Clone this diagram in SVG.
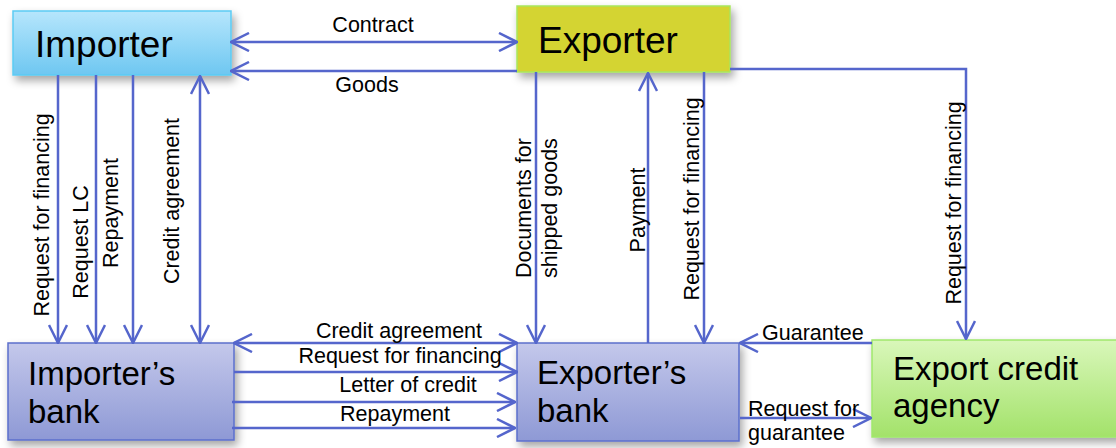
<svg xmlns="http://www.w3.org/2000/svg" width="1116" height="448" viewBox="0 0 1116 448">
<style>
.big{font-family:"Liberation Sans",Arial,sans-serif;font-size:37px;fill:#000}
.mid{font-family:"Liberation Sans",Arial,sans-serif;font-size:33px;fill:#000}
.lbl{font-family:"Liberation Sans",Arial,sans-serif;font-size:21.5px;fill:#000}
.c{fill:none;stroke:#5566cc;stroke-width:2.5}
.a{marker-end:url(#ah)}
.b{marker-start:url(#ah);marker-end:url(#ah)}
</style>
<defs>
<marker id="ah" viewBox="0 0 20 20" refX="19" refY="10" markerWidth="20" markerHeight="20" markerUnits="userSpaceOnUse" orient="auto-start-reverse">
<path d="M1,1 L19,10 L1,19" fill="none" stroke="#5566cc" stroke-width="2.5"/>
</marker>
<linearGradient id="gImp" x1="0" y1="0" x2="0" y2="1"><stop offset="0" stop-color="#b6e6fc"/><stop offset="1" stop-color="#6ec7f1"/></linearGradient>
<linearGradient id="gBank" x1="0" y1="0" x2="0" y2="1"><stop offset="0" stop-color="#c4c8eb"/><stop offset="1" stop-color="#8e99d5"/></linearGradient>
<linearGradient id="gEca" x1="0" y1="0" x2="0" y2="1"><stop offset="0" stop-color="#d9f7ba"/><stop offset="1" stop-color="#a3e26a"/></linearGradient>
<filter id="sh" x="-10%" y="-10%" width="130%" height="140%"><feDropShadow dx="3" dy="5" stdDeviation="4" flood-color="#000" flood-opacity="0.35"/></filter>
</defs>
<rect width="1116" height="448" fill="#fff"/>
<g id="importer">
<rect x="13" y="11" width="218" height="64" fill="url(#gImp)" stroke="#5ccbf3" stroke-width="1.5" filter="url(#sh)"/>
<text class="big" x="35" y="57">Importer</text>
</g>
<g id="exporter">
<rect x="517" y="6" width="213" height="66" fill="#d4d432" stroke="#a8e65c" stroke-width="1.5" filter="url(#sh)"/>
<text class="big" x="538" y="53">Exporter</text>
</g>
<g id="importers-bank">
<rect x="8" y="343" width="226" height="97" fill="url(#gBank)" stroke="#5b6fcc" stroke-width="1.5" filter="url(#sh)"/>
<text class="mid" x="28" y="385">Importer’s</text>
<text class="mid" x="28" y="423">bank</text>
</g>
<g id="exporters-bank">
<rect x="517" y="343" width="222" height="98" fill="url(#gBank)" stroke="#5b6fcc" stroke-width="1.5" filter="url(#sh)"/>
<text class="mid" x="537" y="384">Exporter’s</text>
<text class="mid" x="537" y="422">bank</text>
</g>
<g id="export-credit-agency">
<rect x="872" y="340" width="250" height="97" fill="url(#gEca)" stroke="#a0e86c" stroke-width="1.5" filter="url(#sh)"/>
<text class="mid" x="893" y="380">Export credit</text>
<text class="mid" x="893" y="417">agency</text>
</g>
<g id="connectors">
<line class="c b" x1="231" y1="42" x2="517" y2="42"/>
<line class="c a" x1="517" y1="71" x2="231" y2="71"/>
<line class="c a" x1="58" y1="75" x2="58" y2="343"/>
<line class="c a" x1="96" y1="75" x2="96" y2="343"/>
<line class="c a" x1="133" y1="75" x2="133" y2="343"/>
<line class="c b" x1="200" y1="76" x2="200" y2="343"/>
<line class="c a" x1="536" y1="72" x2="536" y2="343"/>
<line class="c a" x1="648" y1="343" x2="648" y2="73"/>
<line class="c a" x1="704" y1="72" x2="704" y2="343"/>
<path class="c a" d="M730,69 H966 V339"/>
<line class="c b" x1="234" y1="343" x2="517" y2="343"/>
<line class="c a" x1="234" y1="372" x2="517" y2="372"/>
<line class="c a" x1="232" y1="402" x2="515" y2="402"/>
<line class="c a" x1="232" y1="428" x2="515" y2="428"/>
<line class="c a" x1="872" y1="343" x2="740" y2="343"/>
<line class="c a" x1="740" y1="418" x2="871" y2="418"/>
<g id="labels">
<text class="lbl" x="373" y="32" text-anchor="middle">Contract</text>
<text class="lbl" x="367" y="92" text-anchor="middle">Goods</text>
<text class="lbl" transform="translate(48.5,215) rotate(-90)" text-anchor="middle">Request for financing</text>
<text class="lbl" transform="translate(87.5,242) rotate(-90)" text-anchor="middle">Request LC</text>
<text class="lbl" transform="translate(117.5,213) rotate(-90)" text-anchor="middle">Repayment</text>
<text class="lbl" transform="translate(178.5,201) rotate(-90)" text-anchor="middle">Credit agreement</text>
<text class="lbl" transform="translate(530.5,278) rotate(-90)">Documents for</text>
<text class="lbl" transform="translate(557,278) rotate(-90)">shipped goods</text>
<text class="lbl" transform="translate(644.5,210) rotate(-90)" text-anchor="middle">Payment</text>
<text class="lbl" transform="translate(698.5,199) rotate(-90)" text-anchor="middle">Request for financing</text>
<text class="lbl" transform="translate(960.5,203) rotate(-90)" text-anchor="middle">Request for financing</text>
<text class="lbl" x="399" y="338" text-anchor="middle">Credit agreement</text>
<text class="lbl" x="400" y="363" text-anchor="middle">Request for financing</text>
<text class="lbl" x="408" y="392" text-anchor="middle">Letter of credit</text>
<text class="lbl" x="395" y="421" text-anchor="middle">Repayment</text>
<text class="lbl" x="762" y="340">Guarantee</text>
<text class="lbl" x="748" y="416">Request for</text>
<text class="lbl" x="748" y="440">guarantee</text>
</g>
</g>
</svg>
